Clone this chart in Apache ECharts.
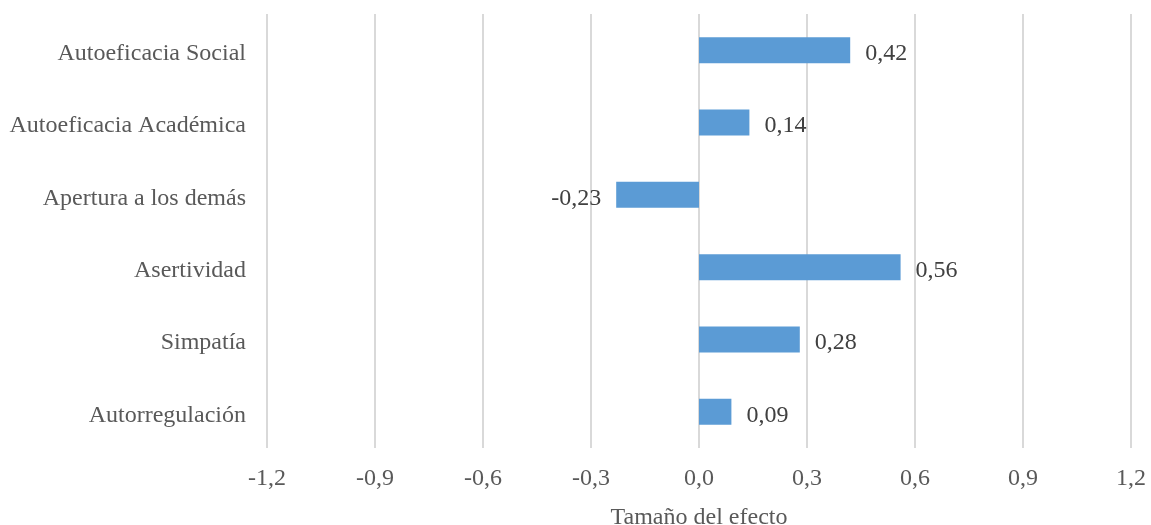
<!DOCTYPE html>
<html>
<head>
<meta charset="utf-8">
<script src="https://cdn.jsdelivr.net/npm/echarts@6/dist/echarts.min.js"></script>
<style>
  html, body { margin: 0; padding: 0; background: #fff; }
  #chart { width: 1151px; height: 525px; }
</style>
</head>
<body>
<div id="chart"></div>
<script>
// Effect sizes per dimension, listed top to bottom
const categories = [
  'Autoeficacia Social',
  'Autoeficacia Académica',
  'Apertura a los demás',
  'Asertividad',
  'Simpatía',
  'Autorregulación'
];
const effectSizes = [0.42, 0.14, -0.23, 0.56, 0.28, 0.09];
const axisMin = -1.2;
const axisMax = 1.2;
const axisStep = 0.3;
const axisTitle = 'Tamaño del efecto';

const serif = '"Liberation Serif", "Times New Roman", serif';
const fmt = (v, d) => v.toFixed(d).replace('.', ',');

// text sits a few pixels below the band centre
const lowered = (color) => ({
  t: { fontFamily: serif, fontSize: 24, color: color, padding: [7, 0, 0, 0] }
});

const chart = echarts.init(document.getElementById('chart'));
chart.setOption({
  animation: false,
  grid: { left: 267, right: 20, top: 14, bottom: 77, outerBoundsMode: 'none' },
  xAxis: {
    type: 'value',
    min: axisMin,
    max: axisMax,
    interval: axisStep,
    name: axisTitle,
    nameLocation: 'middle',
    nameGap: 58,
    nameTextStyle: { fontFamily: serif, fontSize: 24, color: '#595959' },
    axisLine: { show: false },
    axisTick: { show: false },
    axisLabel: {
      fontFamily: serif, fontSize: 24, color: '#595959', margin: 19,
      formatter: v => fmt(v, 1)
    },
    splitLine: { show: true, lineStyle: { color: '#d9d9d9', width: 2 } }
  },
  yAxis: {
    type: 'category',
    data: categories,
    inverse: true,
    axisLine: { show: false },
    axisTick: { show: false },
    axisLabel: {
      fontFamily: serif, fontSize: 24, color: '#595959', margin: 21,
      formatter: v => '{t|' + v + '}',
      rich: lowered('#595959')
    }
  },
  series: [{
    type: 'bar',
    barWidth: 26,
    itemStyle: { color: '#5b9bd5' },
    data: effectSizes.map(v => ({
      value: v,
      label: { position: v < 0 ? 'left' : 'right' }
    })),
    label: {
      show: true,
      distance: 15,
      fontFamily: serif,
      fontSize: 24,
      color: '#404040',
      formatter: p => '{t|' + fmt(p.value, 2) + '}',
      rich: lowered('#404040')
    }
  }]
});
</script>
</body>
</html>
